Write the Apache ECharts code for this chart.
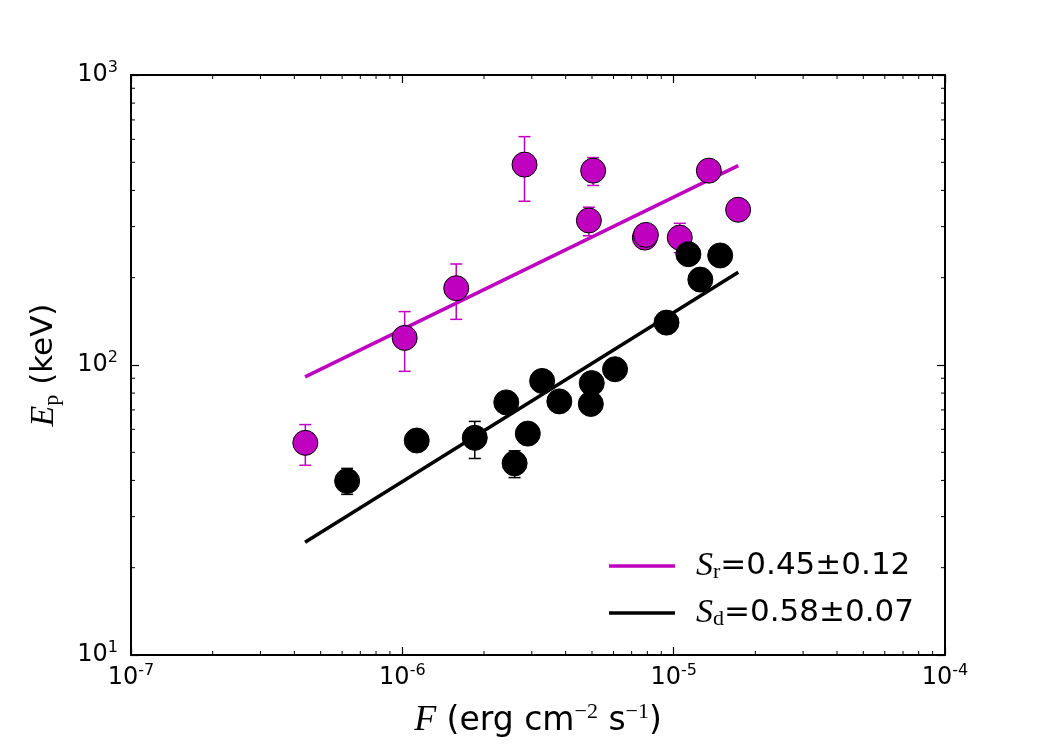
<!DOCTYPE html>
<html>
<head>
<meta charset="utf-8">
<title>Ep vs F</title>
<script src="https://cdn.jsdelivr.net/npm/echarts@6.0.0/dist/echarts.min.js"></script>
<style>
  html, body { margin: 0; padding: 0; background: #fff; }
  #main { width: 1050px; height: 750px; }
</style>
</head>
<body>
<div id="main"></div>
<script>
// rising phase points (magenta)
var riseF  = [4.39e-7, 1.02e-6, 1.58e-6, 2.82e-6, 4.87e-6, 5.05e-6, 7.83e-6, 7.9e-6, 1.053e-5, 1.348e-5, 1.728e-5];
var riseEp = [53.9, 124, 184, 491, 315, 468, 275, 281, 275, 468, 343];
var riseLo = [45.1, 95.1, 143.7, 367, 279, 416, null, null, 244, null, null];
var riseHi = [62.3, 152.8, 223, 613, 350, 519, null, null, 308, null, null];

// decay phase points (black)
var decayF  = [6.26e-7, 1.13e-6, 1.849e-6, 2.416e-6, 2.593e-6, 2.90e-6, 3.275e-6, 3.79e-6, 4.95e-6, 4.99e-6, 6.08e-6, 9.41e-6, 1.133e-5, 1.254e-5, 1.484e-5];
var decayEp = [39.8, 54.9, 56.1, 74.3, 45.8, 58, 88.1, 74.9, 73.4, 86.6, 96.7, 140, 241, 197, 238.6];
var decayLo = [35.8, null, 47.6, null, 40.9, null, null, null, null, null, null, null, null, null, null];
var decayHi = [44.0, null, 63.9, null, 50.6, null, null, null, null, null, null, null, null, null, null];

// fitted power laws (end points)
var fitF     = [4.38e-7, 1.73e-5];
var fitRise  = [91, 487];
var fitDecay = [24.5, 208.7];

var legendText = { Sr: '=0.45\u00b10.12', Sd: '=0.58\u00b10.07' };

// axis ranges as decade exponents
var X_EXP = [-7, -4], Y_EXP = [1, 3];
var X_MIN = Math.pow(10, X_EXP[0]), X_MAX = Math.pow(10, X_EXP[1]);
var Y_MIN = Math.pow(10, Y_EXP[0]), Y_MAX = Math.pow(10, Y_EXP[1]);
var MAGENTA = '#bf00bf';

function pts(xs, ys) {
  return xs.map(function (x, i) { return [x, ys[i]]; });
}
function errPts(xs, lo, hi) {
  var out = [];
  xs.forEach(function (x, i) {
    if (lo[i] != null) out.push([x, lo[i], hi[i]]);
  });
  return out;
}

// minor tick positions 2..9 in each decade
function minorVals(e0, e1) {
  var v = [];
  for (var e = e0; e < e1; e++) {
    for (var k = 2; k <= 9; k++) v.push(k * Math.pow(10, e));
  }
  return v;
}

function errRender(color) {
  return function (params, api) {
    var x = api.value(0);
    var a = api.coord([x, api.value(1)]);
    var b = api.coord([x, api.value(2)]);
    var st = { stroke: color, lineWidth: 1.5 };
    return {
      type: 'group',
      children: [
        { type: 'line', shape: { x1: a[0], y1: a[1], x2: b[0], y2: b[1] }, style: st },
        { type: 'line', shape: { x1: a[0] - 6, y1: a[1], x2: a[0] + 6, y2: a[1] }, style: st },
        { type: 'line', shape: { x1: b[0] - 6, y1: b[1], x2: b[0] + 6, y2: b[1] }, style: st }
      ]
    };
  };
}

function xMinorRender(params, api) {
  var v = api.value(0);
  var b = api.coord([v, Y_MIN]);
  var t = api.coord([v, Y_MAX]);
  var st = { stroke: '#000', lineWidth: 1 };
  return {
    type: 'group',
    children: [
      { type: 'line', shape: { x1: b[0], y1: b[1], x2: b[0], y2: b[1] - 4 }, style: st },
      { type: 'line', shape: { x1: t[0], y1: t[1], x2: t[0], y2: t[1] + 4 }, style: st }
    ]
  };
}
function yMinorRender(params, api) {
  var v = api.value(1);
  var l = api.coord([X_MIN, v]);
  var r = api.coord([X_MAX, v]);
  var st = { stroke: '#000', lineWidth: 1 };
  return {
    type: 'group',
    children: [
      { type: 'line', shape: { x1: l[0], y1: l[1], x2: l[0] + 4, y2: l[1] }, style: st },
      { type: 'line', shape: { x1: r[0], y1: r[1], x2: r[0] - 4, y2: r[1] }, style: st }
    ]
  };
}

function powLabel(value) {
  var e = Math.round(Math.log(value) / Math.LN10);
  return '{b|10}{s|' + e + '}';
}

var tickRich = {
  b: { fontFamily: 'DejaVu Sans', fontSize: 24, lineHeight: 30, color: '#000', verticalAlign: 'middle' },
  s: { fontFamily: 'DejaVu Sans', fontSize: 16, lineHeight: 16, color: '#000', verticalAlign: 'top' }
};
var yNameRich = {
  i:   { fontFamily: 'Liberation Serif', fontStyle: 'italic', fontSize: 34, lineHeight: 38, color: '#000', verticalAlign: 'middle' },
  n:   { fontFamily: 'DejaVu Sans', fontSize: 31, lineHeight: 38, color: '#000', verticalAlign: 'middle' },
  sub: { fontFamily: 'Liberation Serif', fontSize: 22, lineHeight: 19, color: '#000', verticalAlign: 'bottom' }
};
var xNameRich = {
  i:   { fontFamily: 'Liberation Serif', fontStyle: 'italic', fontSize: 36, lineHeight: 40, color: '#000', verticalAlign: 'middle' },
  n:   { fontFamily: 'DejaVu Sans', fontSize: 33, lineHeight: 40, color: '#000', verticalAlign: 'middle' },
  sup: { fontFamily: 'Liberation Serif', fontSize: 22, lineHeight: 20, color: '#000', verticalAlign: 'top' }
};
var legendRich = {
  i:   { fontFamily: 'Liberation Serif', fontStyle: 'italic', fontSize: 34, lineHeight: 34, color: '#000', verticalAlign: 'middle' },
  n:   { fontFamily: 'DejaVu Sans', fontSize: 31, lineHeight: 34, color: '#000', verticalAlign: 'middle' },
  sub: { fontFamily: 'Liberation Serif', fontSize: 22, lineHeight: 17, color: '#000', verticalAlign: 'bottom' }
};

function makeAxis(base, extra) {
  var o = {
    type: 'log', logBase: 10,
    axisLine: { onZero: false, lineStyle: { color: '#000', width: 2 } },
    axisTick: { inside: true, length: 8, lineStyle: { color: '#000', width: 1.2 } },
    splitLine: { show: false }
  };
  for (var k in base) o[k] = base[k];
  for (var j in extra) o[j] = extra[j];
  return o;
}

var chart = echarts.init(document.getElementById('main'));

var option = {
  animation: false,
  backgroundColor: '#fff',
  grid: { left: 131, right: 105, top: 75, bottom: 95 },
  xAxis: [
    makeAxis({ min: X_MIN, max: X_MAX }, {
      position: 'bottom',
      axisLabel: { formatter: powLabel, rich: tickRich, margin: 8, showMinLabel: true, showMaxLabel: true },
      name: '{i|F}{n| (erg cm}{sup|\u22122}{n| s}{sup|\u22121}{n|)}',
      nameLocation: 'middle',
      nameGap: 46,
      nameTextStyle: { rich: xNameRich }
    }),
    makeAxis({ min: X_MIN, max: X_MAX }, { position: 'top', axisLabel: { show: false } })
  ],
  yAxis: [
    makeAxis({ min: Y_MIN, max: Y_MAX }, {
      position: 'left',
      axisLabel: { formatter: powLabel, rich: tickRich, margin: 13, showMinLabel: true, showMaxLabel: true },
      name: '{i|E}{sub|p}{n| (keV)}',
      nameLocation: 'middle',
      nameRotate: 90,
      nameGap: 68,
      nameTextStyle: { rich: yNameRich }
    }),
    makeAxis({ min: Y_MIN, max: Y_MAX }, { position: 'right', axisLabel: { show: false } })
  ],
  legend: {
    data: ['Sr', 'Sd'],
    orient: 'vertical',
    left: 604,
    top: 544,
    itemWidth: 66,
    itemHeight: 3.5,
    itemGap: 13,
    icon: 'rect',
    formatter: function (name) {
      return '{i|S}{sub|' + name.charAt(1) + '}{n|' + legendText[name] + '}';
    },
    textStyle: { padding: [0, 0, 0, 16], rich: legendRich }
  },
  series: [
    { type: 'custom', name: 'xminor', renderItem: xMinorRender, data: minorVals(X_EXP[0], X_EXP[1]).map(function (v) { return [v, Y_MIN]; }), silent: true, z: 1 },
    { type: 'custom', name: 'yminor', renderItem: yMinorRender, data: minorVals(Y_EXP[0], Y_EXP[1]).map(function (v) { return [X_MIN, v]; }), silent: true, z: 1 },
    { type: 'custom', name: 'riseErr', renderItem: errRender(MAGENTA), data: errPts(riseF, riseLo, riseHi), encode: { x: 0, y: [1, 2] }, z: 2 },
    { type: 'custom', name: 'decayErr', renderItem: errRender('#000'), data: errPts(decayF, decayLo, decayHi), encode: { x: 0, y: [1, 2] }, z: 2 },
    { type: 'line', name: 'Sr', data: pts(fitF, fitRise), showSymbol: false, symbol: 'none', color: MAGENTA, lineStyle: { color: MAGENTA, width: 3.5 }, z: 3 },
    { type: 'line', name: 'Sd', data: pts(fitF, fitDecay), showSymbol: false, symbol: 'none', color: '#000', lineStyle: { color: '#000', width: 3.5 }, z: 3 },
    { type: 'scatter', name: 'rise', data: pts(riseF, riseEp), symbolSize: 25, itemStyle: { color: MAGENTA, borderColor: '#000', borderWidth: 1, opacity: 1 }, z: 4 },
    { type: 'scatter', name: 'decay', data: pts(decayF, decayEp), symbolSize: 25, itemStyle: { color: '#000', borderColor: '#000', borderWidth: 1, opacity: 1 }, z: 4 }
  ]
};

chart.setOption(option);
</script>
</body>
</html>
